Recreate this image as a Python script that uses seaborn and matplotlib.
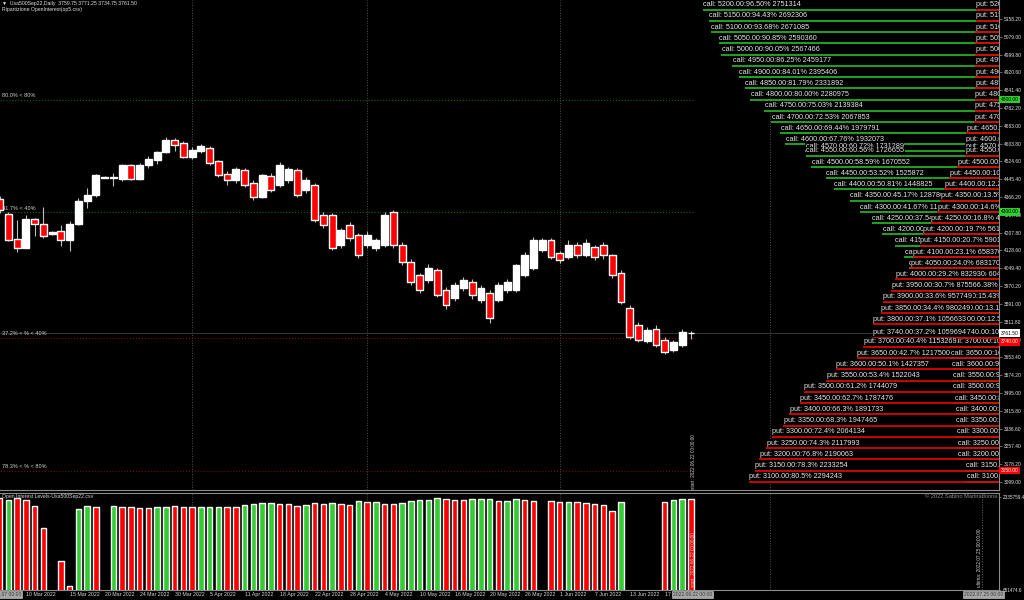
import numpy as np
import pandas as pd
import seaborn as sns
import matplotlib.pyplot as plt
import matplotlib.transforms as mtransforms

# daily bars Usa500Sep22 (bar 0 = first visible bar on the left)
opens = [4357, 4291, 4180, 4140, 4268, 4246, 4202, 4215, 4175, 4246,
         4349, 4375, 4453, 4455, 4446, 4509, 4446, 4509, 4531, 4566,
         4620, 4607, 4544, 4570, 4585, 4525, 4470, 4442, 4486, 4430,
         4368, 4460, 4420, 4440, 4486, 4398, 4420, 4286, 4286, 4153,
         4242, 4197, 4153, 4140, 4153, 4298, 4153, 4077, 4020, 3997,
         4040, 3953, 3918, 3962, 3990, 3908, 3940, 3908, 3953, 3953,
         4020, 4050, 4131, 4175, 4118, 4100, 4153, 4108, 4144, 4153,
         4108, 4030, 3875, 3797, 3725, 3780, 3730, 3686, 3708, 3759.75]
highs = [4372, 4300, 4264, 4286, 4272, 4322, 4215, 4242, 4260, 4362,
         4406, 4470, 4459, 4473, 4512, 4512, 4518, 4549, 4570, 4633,
         4629, 4616, 4590, 4600, 4595, 4531, 4480, 4500, 4495, 4440,
         4470, 4475, 4520, 4500, 4495, 4455, 4430, 4300, 4295, 4230,
         4255, 4205, 4215, 4185, 4300, 4310, 4165, 4090, 4030, 4070,
         4050, 3965, 3990, 4010, 4000, 3975, 3955, 3990, 4000, 4070,
         4120, 4190, 4185, 4185, 4125, 4175, 4165, 4180, 4155, 4165,
         4115, 4040, 3885, 3810, 3790, 3795, 3745, 3730, 3780, 3771.25]
lows = [4295, 4171, 4122, 4138, 4193, 4184, 4198, 4148, 4126, 4240,
        4318, 4366, 4451, 4415, 4437, 4440, 4441, 4495, 4513, 4564,
        4571, 4540, 4535, 4560, 4510, 4455, 4420, 4430, 4410, 4355,
        4360, 4390, 4410, 4430, 4365, 4385, 4255, 4230, 4130, 4140,
        4170, 4095, 4140, 4125, 4145, 4140, 4064, 3975, 3940, 3985,
        3920, 3870, 3905, 3950, 3915, 3895, 3805, 3900, 3940, 3945,
        4010, 4040, 4120, 4090, 4075, 4090, 4095, 4100, 4085, 4090,
        4005, 3890, 3735, 3720, 3715, 3700, 3666, 3676, 3700, 3734.75]
closes = [4309, 4175, 4140, 4268, 4246, 4193, 4211, 4175, 4246, 4349,
          4375, 4464, 4457, 4450, 4509, 4446, 4509, 4535, 4566, 4620,
          4598, 4544, 4575, 4592, 4518, 4464, 4442, 4490, 4420, 4368,
          4464, 4398, 4509, 4490, 4375, 4442, 4264, 4242, 4140, 4220,
          4184, 4108, 4197, 4175, 4286, 4153, 4077, 3988, 3953, 4050,
          3931, 3886, 3975, 3997, 3931, 3962, 3828, 3975, 3990, 4064,
          4108, 4175, 4175, 4100, 4086, 4153, 4108, 4162, 4100, 4108,
          4020, 3900, 3745, 3730, 3775, 3708, 3676, 3720, 3765, 3761.50]

# open interest histogram (None = no data for that bar)
oi_level = [2317700, 2281000, 2317700, 2281000, 2172800, 1774400, None, 1176700, 723900, 2118500,
            2172800, 2154700, None, 2172800, 2154700, 2154700, 2136600, 2136600, 2145600, 2154700,
            2172800, 2154700, 2145600, 2154700, 2154700, 2154700, 2154700, 2154700, 2190900, 2209000,
            2218100, 2218100, 2209000, 2200000, 2172800, 2190900, 2227100, 2209000, 2227100, 2209000,
            2190900, 2263400, 2236200, 2236200, 2209000, 2209000, 2227100, 2268800, 2281500, 2287000,
            2312300, 2299600, 2287000, 2281500, 2294000, 2299600, 2299600, 2268800, 2268800, 2299600,
            2281500, 2268800, None, 2257500, 2239000, 2239000, 2239000, 2227100, 2214000, 2185000,
            2077000, 2250000, None, None, None, None, 2245000, 2287000, 2299600, 2294000]
oi_side = ['down', 'up', 'down', 'down', 'down', 'down', None, 'down', 'down', 'up',
           'up', 'down', None, 'up', 'down', 'down', 'down', 'down', 'up', 'up',
           'down', 'down', 'down', 'up', 'up', 'up', 'down', 'down', 'up', 'up',
           'up', 'up', 'down', 'down', 'down', 'up', 'down', 'down', 'up', 'down',
           'down', 'up', 'down', 'up', 'down', 'down', 'up', 'up', 'up', 'up',
           'up', 'down', 'down', 'down', 'up', 'up', 'up', 'down', 'up', 'up',
           'down', 'down', None, 'down', 'down', 'up', 'down', 'down', 'down', 'down',
           'down', 'up', None, None, None, None, 'down', 'up', 'up', 'down']

# option strikes with cumulative call / put open interest
strikes = [5200, 5150, 5100, 5050, 5000, 4950, 4900, 4850, 4800, 4750, 4700, 4650, 4600, 4570, 4550,
           4500, 4450, 4400, 4350, 4300, 4250, 4200, 4150, 4100, 4050, 4000, 3950, 3900, 3850, 3800,
           3740, 3700, 3650, 3600, 3550, 3500, 3450, 3400, 3350, 3300, 3250, 3200, 3150, 3100]
call_pct = [96.50, 94.43, 93.68, 90.85, 90.05, 86.25, 84.01, 81.79, 80.00, 75.03, 72.53, 69.44, 67.76, 60.72, 60.56,
            58.59, 53.52, 50.81, 45.17, 41.67, 37.54, 33.80, 29.40, 26.10, 24.50, 21.20, 17.38, 15.43, 13.19, 12.51,
            10.90, 10.50, 10.10, 9.50, 9.40, 9.30, 8.60, 8.30, 8.10, 7.90, 7.70, 7.50, 4.80, 4.50]
call_oi = [2751314, 2692306, 2671085, 2590360, 2567466, 2459177, 2395406, 2331892, 2280975, 2139384, 2067853,
           1979791, 1932073, 1731289, 1726655, 1670552, 1525872, 1448825, 1287869, 1188054, 1070295, 963638,
           838194, 744111, 698495, 604412, 495504, 439909, 376037, 356660, 310759, 299355, 287951, 270845,
           267994, 265143, 245186, 236633, 230931, 225229, 219527, 213825, 136848, 128295]
put_pct = [1.2, 1.2, 1.3, 1.3, 1.3, 1.4, 1.4, 1.4, 1.5, 1.5, 1.6, 4.5, 4.6, 4.8, 4.9,
           7.7, 10.5, 12.2, 13.5, 14.6, 16.8, 19.7, 20.7, 23.1, 24.0, 29.2, 30.7, 33.6, 34.4, 37.1,
           37.2, 40.4, 42.7, 50.1, 53.4, 61.2, 62.7, 66.3, 68.3, 72.4, 74.3, 76.8, 78.3, 80.5]
put_oi = [34213, 34213, 37064, 37064, 37064, 39915, 39915, 39915, 42766, 42766, 45618, 128300, 131151,
          136853, 139704, 219535, 299366, 347835, 384899, 416261, 478985, 561667, 590178, 658370, 683170,
          832930, 875566, 957749, 980249, 1056633, 1059694, 1153269, 1217500, 1427357, 1522043, 1744079,
          1787476, 1891733, 1947465, 2064134, 2117993, 2190063, 2233254, 2294243]

date_ticks = [3, 8, 12, 16, 20, 24, 28, 32, 36, 40, 44, 48, 52, 56, 60, 64, 68, 72, 76]
date_labels = ['10 Mar 2022', '15 Mar 2022', '20 Mar 2022', '24 Mar 2022', '30 Mar 2022', '5 Apr 2022',
               '11 Apr 2022', '18 Apr 2022', '22 Apr 2022', '28 Apr 2022', '4 May 2022', '10 May 2022',
               '16 May 2022', '20 May 2022', '26 May 2022', '1 Jun 2022', '7 Jun 2022', '13 Jun 2022',
               '17 Jun 2022']
month_bars = [22, 42, 64, 88]

GREEN = '#22b022'
RED = '#e00000'
TXT = '#e4e4e4'

sns.set_style('dark', {'axes.facecolor': 'black', 'figure.facecolor': 'black'})
plt.rcParams['font.family'] = ['Liberation Sans', 'DejaVu Sans']

fig = plt.figure(figsize=(10.24, 6), dpi=100)
fig.patch.set_facecolor('black')
ax = fig.add_axes([0, 1 - 490 / 600, 999 / 1024, 490 / 600])
axb = fig.add_axes([0, 10 / 600, 999 / 1024, 97 / 600])

XMIN, XMAX = 0.046, 114.2

# ---- candles
idx = np.arange(len(opens))
o = np.array(opens, float)
c = np.array(closes, float)
up = c >= o
body = np.maximum(np.abs(c - o), 3)
ax.vlines(idx, lows, highs, color='#bdbdbd', lw=0.8, zorder=2)
ax.bar(idx[up], body[up], bottom=o[up], width=0.78, color='white', zorder=3)
ax.bar(idx[~up], body[~up], bottom=c[~up], width=0.78, color='#ff0000', zorder=3)

ax.set_xlim(XMIN, XMAX)
ax.set_ylim(3063.4, 5242.5)
ax.set_xticks([])
ax.yaxis.tick_right()
ax.set_yticks(np.arange(3099.0, 5160, 79.2))
ax.yaxis.set_major_formatter(plt.FormatStrFormatter('%.2f'))
ax.tick_params(axis='y', labelsize=3.5, labelcolor=TXT, color='#8c8c8c', length=2, width=0.5, pad=1.5)
ax.grid(False)
for s in ['top', 'left']:
    ax.spines[s].set_visible(False)
for s in ['right', 'bottom']:
    ax.spines[s].set_color('#8c8c8c')
    ax.spines[s].set_linewidth(0.8)

# month separators
for m in month_bars:
    ax.axvline(m, color='#505050', ls=':', lw=0.7, zorder=1)
    axb.axvline(m, color='#505050', ls=':', lw=0.7, zorder=1)

# level lines
ax.hlines([4800, 4300], 0, 79.5, colors='#0c6a0c', linestyles=':', lw=0.8, zorder=1)
ax.hlines([3740, 3150], 0, 79.5, colors='#7a0c0c', linestyles=':', lw=0.8, zorder=1)
ax.axhline(3761.5, color='#3c3c3c', lw=0.6, zorder=1)
lvl_text = [(4800, '80.0% < 80%'), (4300, '41.7% < 40%'), (3740, '37.2% < % < 40%'), (3150, '78.3% < % < 80%')]
for y, t in lvl_text:
    ax.annotate(t, (0.25, y), xytext=(0, 1), textcoords='offset points', fontsize=4,
                color='#cfcfcf', ha='left', va='bottom', zorder=1)

ax.text(79.3, 3068, 'start: 2022.06.22 00:00:00', rotation=90, ha='center', va='bottom',
        fontsize=3.4, color='#cfcfcf', zorder=4)

# right axis markers
blend = mtransforms.blended_transform_factory(ax.transAxes, ax.transData)
marks = [(4800, '4800.00', '#2ecc2e', 'black'), (4300, '4300.00', '#2ecc2e', 'black'),
         (3761.5, '3761.50', 'white', 'black'), (3722, '3740.00', '#ff0000', 'white'),
         (3150, '3150.00', '#ff0000', 'white')]
for y, t, fc, tc in marks:
    ax.text(1.0015, y, t, transform=blend, fontsize=3.5, color=tc, ha='left', va='center',
            bbox=dict(fc=fc, ec='none', pad=0.9), clip_on=False, zorder=6)

# ---- open interest ladder (own x scale in contracts, growing to the left)
ax_oi = ax.twiny()
ax_oi.set_xlim(9.751e6, -0.199e6)
ax_oi.set_axis_off()
line_end = -0.3e6
ax_oi.hlines(strikes, call_oi, line_end, colors=GREEN, lw=1.3, zorder=2)
for k, p, v in zip(strikes, call_pct, call_oi):
    ax_oi.annotate(f'call: {k:.2f}:{p:.2f}% {v}', (v, k), xytext=(0.4, 1.0), textcoords='offset points',
                   fontsize=5.2, color=TXT, ha='left', va='bottom', clip_on=True, zorder=3,
                   bbox=dict(fc='black', ec='none', pad=0.25))
ax_oi.hlines(strikes, put_oi, line_end, colors=RED, lw=1.3, zorder=4)
for k, p, v in zip(strikes, put_pct, put_oi):
    ax_oi.annotate(f'put: {k:.2f}:{p:.1f}% {v}', (v, k), xytext=(0.4, 1.0), textcoords='offset points',
                   fontsize=5.2, color=TXT, ha='left', va='bottom', clip_on=True, zorder=5,
                   bbox=dict(fc='black', ec='none', pad=0.25))

# ---- bottom histogram
oi_df = pd.DataFrame({'bar': idx, 'oi': oi_level, 'side': oi_side}).dropna()
sns.barplot(data=oi_df, x='bar', y='oi', hue='side', palette={'up': '#33cc33', 'down': '#ff0000'},
            native_scale=True, dodge=False, width=0.62, saturation=1, errorbar=None, legend=False, ax=axb)
axb.set_xlim(XMIN, XMAX)
axb.set_ylim(651474.6, 2408200)
axb.set_xlabel('')
axb.set_ylabel('')
axb.grid(False)
axb.yaxis.tick_right()
axb.set_yticks([651474.6, 2335759.4])
axb.set_yticklabels(['651474.6', '2335759.4'])
axb.tick_params(axis='y', labelsize=3.3, labelcolor=TXT, color='#8c8c8c', length=1.5, width=0.5, pad=1.0)
axb.set_xticks(date_ticks)
axb.set_xticklabels(date_labels, ha='left')
axb.tick_params(axis='x', labelsize=3.8, labelcolor='#d6d6d6', length=0, pad=1.2)
axb.spines['left'].set_visible(False)
for s in ['top', 'right', 'bottom']:
    axb.spines[s].set_color('#8c8c8c')
    axb.spines[s].set_linewidth(0.8)

axb.axvline(112.3, color='#6a6a6a', ls=':', lw=0.7)
axb.text(0.002, 0.985, 'Open Interest Levels-Usa500Sep22.csv', transform=axb.transAxes,
         fontsize=3.7, color='#d6d6d6', ha='left', va='top')
axb.text(0.998, 0.985, '\u00a9 2022 Sabino Martiradonna', transform=axb.transAxes,
         fontsize=4.1, color='#8a8a8a', ha='right', va='top')
axb.text(79.3, 700000, 'start: 2022.06.22 00:00:00', rotation=90, ha='center', va='bottom',
         fontsize=3.4, color='#cfcfcf')
axb.text(112.0, 700000, 'ultima: 2022.07.25 00:00:00', rotation=90, ha='center', va='bottom',
         fontsize=3.4, color='#cfcfcf')

bblend = mtransforms.blended_transform_factory(axb.transData, axb.transAxes)
for xb, t in [(79.2, '2022.06.22 00:00'), (112.4, '2022.07.25 00:00')]:
    axb.text(xb, -0.045, t, transform=bblend, fontsize=3.6, color='#3a3a3a', ha='center', va='center',
             bbox=dict(fc='#a6a6a6', ec='#d0d0d0', lw=0.4, pad=0.8), clip_on=False, zorder=6)
fig.text(21 / 1024, 0.0095, '2022.03.07 00:00', fontsize=3.6, color='#3a3a3a', ha='right', va='center',
         bbox=dict(fc='#a6a6a6', ec='#d0d0d0', lw=0.4, pad=0.8))

# header
fig.text(2 / 1024, 1 - 4 / 600, '\u25bc  Usa500Sep22,Daily  3759.75 3771.25 3734.75 3761.50',
         fontsize=3.7, color='#e0e0e0', ha='left', va='center')
fig.text(2 / 1024, 1 - 10 / 600, 'Ripartizione OpenInterest(op5.csv)',
         fontsize=3.7, color='#e0e0e0', ha='left', va='center')

fig.savefig('out.png', dpi=100, facecolor='black')
